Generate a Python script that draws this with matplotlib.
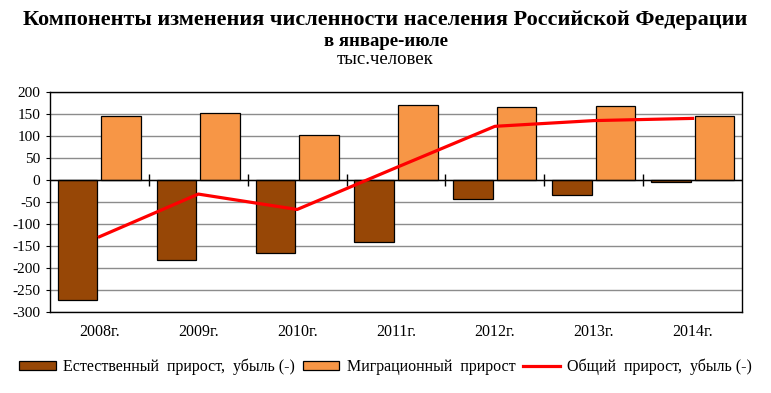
import matplotlib
matplotlib.use("Agg")
import matplotlib.pyplot as plt
import numpy as np

plt.rcParams['font.family'] = ['Liberation Serif', 'DejaVu Serif']
plt.rcParams['axes.unicode_minus'] = False

# data, thousand people, January-July
years = ["2008г.", "2009г.", "2010г.", "2011г.", "2012г.", "2013г.", "2014г."]
natural = [-273, -182, -167, -142, -43, -33, -4]
migration = [146, 152, 102, 170, 165, 168, 145]
total = [-129, -32, -67, 28, 122, 135, 140]

fig = plt.figure(figsize=(7.71, 3.93), dpi=100)
ax = fig.add_axes([50 / 771, 1 - 312 / 393, 692 / 771, 220 / 393])

x = np.arange(len(years))
ax.set_xlim(-0.5, len(years) - 0.5)
ax.set_ylim(-300, 200)
ax.set_yticks(range(-300, 201, 50))
ax.yaxis.grid(True, color="#8c8c8c", linewidth=1)
ax.set_axisbelow(True)

b1 = ax.bar(x - 0.22, natural, width=0.4, color="#974706", edgecolor="black", linewidth=0.9,
            label="Естественный  прирост,  убыль (-)", zorder=2)
b2 = ax.bar(x + 0.22, migration, width=0.4, color="#F79646", edgecolor="black", linewidth=0.9,
            label="Миграционный  прирост", zorder=2)
l1, = ax.plot(x, total, color="#ff0000", linewidth=2.3, label="Общий  прирост,  убыль (-)", zorder=3)

# zero line with category separators
ax.axhline(0, color="black", linewidth=1, zorder=2.5)
bounds = np.arange(0.5, len(years) - 0.5)
ax.plot(bounds, np.zeros_like(bounds), linestyle="none", marker="|", markersize=8,
        color="black", markeredgewidth=1, zorder=2.5)

ax.set_xticks(x)
ax.set_xticklabels(years, fontsize=11.5)
ax.tick_params(axis="x", length=0, pad=9)
ax.tick_params(axis="y", labelsize=11, length=3, pad=4)
for s in ax.spines.values():
    s.set_color("black")
    s.set_linewidth(1)

fig.text(0.5, 1 - 20 / 393, "Компоненты изменения численности населения Российской Федерации",
         ha="center", va="center", fontsize=16, fontweight="bold")
fig.text(0.5, 1 - 41 / 393, "в январе-июле", ha="center", va="center", fontsize=13.5, fontweight="bold")
fig.text(0.5, 1 - 59 / 393, "тыс.человек", ha="center", va="center", fontsize=13.5)

fig.legend([b1, b2, l1], [b1.get_label(), b2.get_label(), l1.get_label()],
           loc="center", bbox_to_anchor=(0.5, 1 - 367 / 393), ncol=3, frameon=False,
           fontsize=11.5, handlelength=2.3, handleheight=0.55, columnspacing=0.5,
           handletextpad=0.45, borderaxespad=0, borderpad=0)

fig.savefig("out.png", dpi=100)
